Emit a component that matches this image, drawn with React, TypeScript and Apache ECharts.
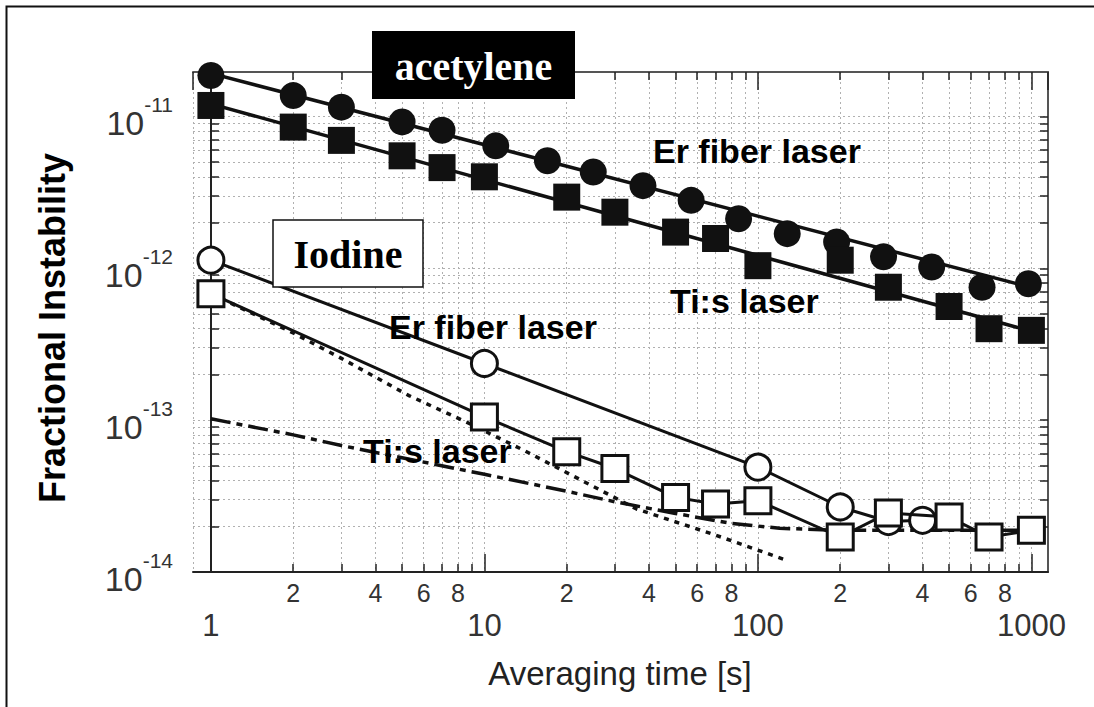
import React, { useEffect, useRef } from 'react';
import * as echarts from 'echarts';

// Axis ranges
const X_MIN = 0.86;
const X_MAX = 1150;
const Y_MIN = 1e-14;
const Y_MAX = 1.96e-11;

// Tick values
const X_MINOR_TICKS = [2, 3, 4, 5, 6, 7, 8, 9, 20, 30, 40, 50, 60, 70, 80, 90, 200, 300, 400, 500, 600, 700, 800, 900];
const X_MINOR_LABELS = [2, 4, 6, 8, 20, 40, 60, 80, 200, 400, 600, 800];
const Y_DECADES = [1e-14, 1e-13, 1e-12, 1e-11];
const Y_MINOR_TICKS = [
  2e-14, 3e-14, 4e-14, 5e-14, 6e-14, 7e-14, 8e-14, 9e-14,
  2e-13, 3e-13, 4e-13, 5e-13, 6e-13, 7e-13, 8e-13, 9e-13,
  2e-12, 3e-12, 4e-12, 5e-12, 6e-12, 7e-12, 8e-12, 9e-12,
];

// Acetylene, Er fiber laser (filled circles)
const ACET_ER_T = [1, 2, 3, 5, 7, 11, 17, 25, 38, 57, 85, 128, 194, 288, 432, 660, 975];
const ACET_ER_V = [1.86e-11, 1.37e-11, 1.15e-11, 9.2e-12, 8.1e-12, 6.4e-12, 5.1e-12, 4.3e-12, 3.5e-12, 2.8e-12, 2.12e-12, 1.69e-12, 1.49e-12, 1.19e-12, 1.02e-12, 7.5e-13, 7.9e-13];
// Acetylene, Ti:s laser (filled squares)
const ACET_TI_T = [1, 2, 3, 5, 7, 10, 20, 30, 50, 70, 100, 200, 300, 500, 700, 1000];
const ACET_TI_V = [1.18e-11, 8.5e-12, 6.95e-12, 5.5e-12, 4.6e-12, 4.0e-12, 2.94e-12, 2.34e-12, 1.73e-12, 1.57e-12, 1.04e-12, 1.13e-12, 7.5e-13, 5.6e-13, 4.0e-13, 3.9e-13];
// Acetylene fit lines
const ACET_ER_FIT_T = [1, 1080];
const ACET_ER_FIT_V = [1.92e-11, 7.2e-13];
const ACET_TI_FIT_T = [1, 1080];
const ACET_TI_FIT_V = [1.21e-11, 3.7e-13];

// Iodine, Er fiber laser (open circles)
const IOD_ER_T = [1, 10, 100, 200, 300, 400];
const IOD_ER_V = [1.13e-12, 2.36e-13, 4.9e-14, 2.68e-14, 2.15e-14, 2.19e-14];
// Iodine, Ti:s laser (open squares)
const IOD_TI_T = [1, 10, 20, 30, 50, 70, 100, 200, 300, 500, 700, 1000];
const IOD_TI_V = [6.8e-13, 1.05e-13, 6.2e-14, 4.8e-14, 3.1e-14, 2.8e-14, 2.95e-14, 1.7e-14, 2.45e-14, 2.3e-14, 1.7e-14, 1.88e-14];

// Dotted curve
const DOT_T = [1, 2, 3, 5.3, 8.6, 14, 36, 70, 128];
const DOT_V = [6.8e-13, 3.75e-13, 2.55e-13, 1.45e-13, 9.7e-14, 6.3e-14, 2.6e-14, 1.75e-14, 1.19e-14];
// Dash-dot curve
const DASH_T = [1, 2, 3, 5, 10, 20, 30, 50, 80, 120, 200, 1080];
const DASH_V = [1.02e-13, 8.0e-14, 6.8e-14, 5.65e-14, 4.4e-14, 3.4e-14, 2.9e-14, 2.43e-14, 2.09e-14, 1.94e-14, 1.88e-14, 1.88e-14];

const zip = (t: number[], v: number[]) => t.map((x, i) => [x, v[i]]);
const lg = (v: number) => Math.log10(v);

const SANS = '"Liberation Sans", Arial, sans-serif';
const SERIF = '"Liberation Serif", "Times New Roman", serif';
const GRID_LINE = { show: true, lineStyle: { color: '#b0b0b0', type: [2, 3] as any, width: 1 } };

export default function App() {
  const ref = useRef<HTMLDivElement>(null);
  useEffect(() => {
    if (!ref.current) return;
    const chart = echarts.init(ref.current, undefined, { renderer: 'svg' });
    const xLogMin = lg(X_MIN), xLogMax = lg(X_MAX);
    const yLogMin = lg(Y_MIN), yLogMax = lg(Y_MAX);
    const yAllTicks = Y_DECADES.concat(Y_MINOR_TICKS).map(lg);

    const option: any = {
      animation: false,
      backgroundColor: '#fff',
      grid: { left: 193, top: 72, width: 855, height: 500 },
      xAxis: [
        {
          type: 'log', logBase: 10, position: 'bottom', min: X_MIN, max: X_MAX,
          axisLine: { show: true, lineStyle: { color: '#222', width: 2 } },
          axisTick: { show: true, inside: true, length: 18, lineStyle: { color: '#222', width: 1.5 } },
          axisLabel: {
            show: true, margin: 38, fontSize: 31, color: '#333', fontFamily: SANS,
            showMinLabel: false, showMaxLabel: false,
            formatter: (v: number) => String(Math.round(v)),
          },
          splitLine: GRID_LINE,
        },
        {
          type: 'value', position: 'bottom', min: xLogMin, max: xLogMax,
          axisLine: { show: false },
          axisTick: { show: true, inside: true, length: 8, customValues: X_MINOR_TICKS.map(lg), lineStyle: { color: '#222', width: 1.5 } },
          axisLabel: {
            show: true, margin: 8, fontSize: 25, color: '#333', fontFamily: SANS,
            customValues: X_MINOR_LABELS.map(lg),
            formatter: (v: number) => String(Math.round(Math.pow(10, v - Math.floor(v + 1e-9)))),
          },
          splitLine: GRID_LINE,
        },
        {
          type: 'log', logBase: 10, position: 'top', min: X_MIN, max: X_MAX,
          axisLine: { show: true, lineStyle: { color: '#555', width: 2 } },
          axisTick: { show: true, inside: true, length: 18, lineStyle: { color: '#222', width: 1.5 } },
          axisLabel: { show: false },
          splitLine: { show: false },
        },
        {
          type: 'value', position: 'top', min: xLogMin, max: xLogMax,
          axisLine: { show: false },
          axisTick: { show: true, inside: true, length: 8, customValues: X_MINOR_TICKS.map(lg), lineStyle: { color: '#222', width: 1.5 } },
          axisLabel: { show: false },
          splitLine: { show: false },
        },
      ],
      yAxis: [
        {
          type: 'log', logBase: 10, position: 'left', min: Y_MIN, max: Y_MAX,
          axisLine: { show: true, lineStyle: { color: '#222', width: 2 } },
          axisTick: { show: true, inside: true, length: 8, lineStyle: { color: '#222', width: 1.5 } },
          axisLabel: {
            show: true, margin: 20, showMinLabel: true, showMaxLabel: false,
            formatter: (v: number) => `{b|10}{s|${Math.round(Math.log10(v))}}`,
            rich: {
              b: { fontSize: 34, fontFamily: SANS, color: '#333', padding: [14, 0, 0, 0] },
              s: { fontSize: 21, fontFamily: SANS, color: '#333', padding: [0, 0, 24, 0] },
            },
          },
          splitLine: GRID_LINE,
        },
        {
          type: 'value', position: 'left', min: yLogMin, max: yLogMax,
          axisLine: { show: false },
          axisTick: { show: true, inside: true, length: 8, customValues: Y_MINOR_TICKS.map(lg), lineStyle: { color: '#222', width: 1.5 } },
          axisLabel: { show: false },
          splitLine: GRID_LINE,
        },
        {
          type: 'value', position: 'right', min: yLogMin, max: yLogMax,
          axisLine: { show: true, lineStyle: { color: '#555', width: 2 } },
          axisTick: { show: true, inside: true, length: 8, customValues: yAllTicks, lineStyle: { color: '#222', width: 1.5 } },
          axisLabel: { show: false },
          splitLine: { show: false },
        },
      ],
      series: [
        {
          type: 'line', name: 'Dash-dot', xAxisIndex: 0, yAxisIndex: 0, data: zip(DASH_T, DASH_V),
          symbol: 'none', silent: true, z: 2,
          lineStyle: { color: '#111', width: 3.5, type: [20, 6, 6, 6] },
        },
        {
          type: 'line', name: 'Dotted', xAxisIndex: 0, yAxisIndex: 0, data: zip(DOT_T, DOT_V),
          symbol: 'none', silent: true, z: 2,
          lineStyle: { color: '#111', width: 3.5, type: [5, 6] },
        },
        {
          type: 'line', name: 'Acetylene Er fit', xAxisIndex: 0, yAxisIndex: 0, data: zip(ACET_ER_FIT_T, ACET_ER_FIT_V),
          symbol: 'none', silent: true, z: 3, clip: false,
          lineStyle: { color: '#111', width: 3.5 },
        },
        {
          type: 'line', name: 'Acetylene Ti:s fit', xAxisIndex: 0, yAxisIndex: 0, data: zip(ACET_TI_FIT_T, ACET_TI_FIT_V),
          symbol: 'none', silent: true, z: 3, clip: false,
          lineStyle: { color: '#111', width: 3.5 },
        },
        {
          type: 'scatter', name: 'Acetylene Er fiber laser', xAxisIndex: 0, yAxisIndex: 0, data: zip(ACET_ER_T, ACET_ER_V),
          symbol: 'circle', symbolSize: 27, z: 4, clip: false,
          itemStyle: { color: '#111', opacity: 1 },
        },
        {
          type: 'scatter', name: 'Acetylene Ti:s laser', xAxisIndex: 0, yAxisIndex: 0, data: zip(ACET_TI_T, ACET_TI_V),
          symbol: 'rect', symbolSize: 27, z: 4, clip: false,
          itemStyle: { color: '#111', opacity: 1 },
        },
        {
          type: 'line', name: 'Iodine Er fiber laser', xAxisIndex: 0, yAxisIndex: 0, data: zip(IOD_ER_T, IOD_ER_V),
          symbol: 'circle', symbolSize: 26, showSymbol: true, z: 5, clip: false,
          itemStyle: { color: '#fff', borderColor: '#111', borderWidth: 3 },
          lineStyle: { color: '#111', width: 3 },
        },
        {
          type: 'line', name: 'Iodine Ti:s laser', xAxisIndex: 0, yAxisIndex: 0, data: zip(IOD_TI_T, IOD_TI_V),
          symbol: 'rect', symbolSize: 26, showSymbol: true, z: 6, clip: false,
          itemStyle: { color: '#fff', borderColor: '#111', borderWidth: 3 },
          lineStyle: { color: '#111', width: 3 },
        },
      ],
      graphic: [
        {
          type: 'rect', z: 100, silent: true,
          shape: { x: 6.5, y: 6.5, width: 1100, height: 720 },
          style: { fill: 'none', stroke: '#111', lineWidth: 2 },
        },
        {
          type: 'rect', z: 100, silent: true,
          shape: { x: 372, y: 31, width: 203, height: 68 },
          style: { fill: '#000' },
        },
        {
          type: 'text', z: 101, x: 473.5, y: 66, silent: true,
          style: { text: 'acetylene', fill: '#fff', fontSize: 40, fontWeight: 'bold', fontFamily: SERIF, align: 'center', verticalAlign: 'middle' },
        },
        {
          type: 'rect', z: 100, silent: true,
          shape: { x: 273, y: 220, width: 150, height: 67 },
          style: { fill: '#fff', stroke: '#111', lineWidth: 1.5 },
        },
        {
          type: 'text', z: 101, x: 348, y: 254, silent: true,
          style: { text: 'Iodine', fill: '#000', fontSize: 40, fontWeight: 'bold', fontFamily: SERIF, align: 'center', verticalAlign: 'middle' },
        },
        {
          type: 'text', z: 101, x: 653, y: 151, silent: true,
          style: { text: 'Er fiber laser', fill: '#000', fontSize: 34, fontWeight: 'bold', fontFamily: SANS, align: 'left', verticalAlign: 'middle' },
        },
        {
          type: 'text', z: 101, x: 670, y: 301, silent: true,
          style: { text: 'Ti:s laser', fill: '#000', fontSize: 34, fontWeight: 'bold', fontFamily: SANS, align: 'left', verticalAlign: 'middle' },
        },
        {
          type: 'text', z: 101, x: 389, y: 327, silent: true,
          style: { text: 'Er fiber laser', fill: '#000', fontSize: 34, fontWeight: 'bold', fontFamily: SANS, align: 'left', verticalAlign: 'middle' },
        },
        {
          type: 'text', z: 101, x: 363, y: 451, silent: true,
          style: { text: 'Ti:s laser', fill: '#000', fontSize: 34, fontWeight: 'bold', fontFamily: SANS, align: 'left', verticalAlign: 'middle' },
        },
        {
          type: 'text', z: 101, x: 52, y: 328, rotation: Math.PI / 2, silent: true,
          style: { text: 'Fractional Instability', fill: '#000', fontSize: 36, fontWeight: 'bold', fontFamily: SANS, align: 'center', verticalAlign: 'middle' },
        },
        {
          type: 'text', z: 101, x: 620, y: 673, silent: true,
          style: { text: 'Averaging time [s]', fill: '#222', fontSize: 33, fontFamily: SANS, align: 'center', verticalAlign: 'middle' },
        },
      ],
    };
    chart.setOption(option);
    return () => chart.dispose();
  }, []);

  return (
    <div
      ref={ref}
      style={{ position: 'absolute', left: 0, top: 0, width: 1094, height: 707, background: '#fff' }}
    />
  );
}
